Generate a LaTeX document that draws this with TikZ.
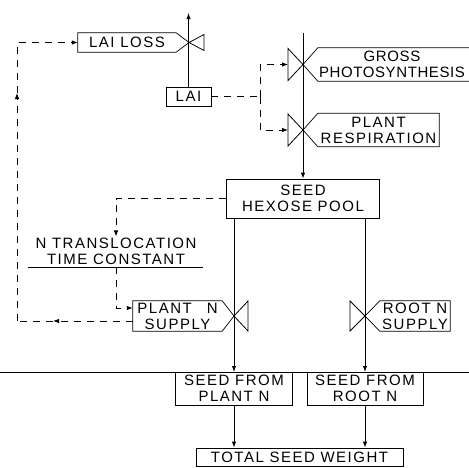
\documentclass[tikz,border=0pt]{standalone}
\usepackage{fontspec}
\setmainfont{Liberation Sans}[LetterSpace=10]
\usetikzlibrary{arrows.meta,calc}

\begin{document}
\begin{tikzpicture}[x=1pt,y=-1pt,
 lbl/.style={inner sep=1pt,align=center,font=\fontsize{15}{16}\selectfont},
 box/.style={lbl,draw,line width=.7pt},
 outline/.style={draw,line width=.7pt},
 valve/.style={draw,line width=.8pt},
 flow/.style={-{Latex[length=6pt,width=4.5pt]},line width=1pt},
 link/.style={line width=.8pt,dash pattern=on 7pt off 6pt},
 linkarrow/.style={link,-{Latex[length=6pt,width=4.5pt]}}
]
\useasboundingbox (0,0) rectangle (469,467);
\node[lbl,minimum width=98pt,minimum height=19pt] (lailoss) at (127,42.5) {LAI LOSS};
\node[box,minimum width=45pt,minimum height=19pt] (lai) at (188.5,96.5) {LAI};
\node[lbl,minimum width=150pt,minimum height=33pt,
 font=\fontsize{15}{16}\selectfont\addfontfeature{LetterSpace=4}] (gross) at (392,64.5) {GROSS\\PHOTOSYNTHESIS};
\node[lbl,minimum width=121pt,minimum height=33pt] (resp) at (378.5,130) {PLANT\\RESPIRATION};
\node[box,minimum width=153pt,minimum height=39pt] (pool) at (303,198.5) {SEED\\HEXOSE POOL};
\node[lbl] (ntc) at (116,251) {N TRANSLOCATION\\TIME CONSTANT};
\node[lbl,minimum width=89pt,minimum height=30pt] (pns) at (177.5,316) {PLANT\quad N\\SUPPLY};
\node[lbl,minimum width=70pt,minimum height=30pt] (rns) at (415,316) {ROOT N\\SUPPLY};
\node[box,minimum width=117pt,minimum height=33pt] (sfp) at (234,388.5) {SEED FROM\\PLANT N};
\node[box,minimum width=116pt,minimum height=33pt] (sfr) at (365,388.5) {SEED FROM\\ROOT N};
\node[box,minimum width=207pt,minimum height=18pt] (tsw) at (299.5,457) {TOTAL SEED WEIGHT};

\coordinate (vloss) at (189,42.5);
\coordinate (vgross) at (303,64.5);
\coordinate (vresp) at (303,130);
\coordinate (vpn) at (234,316);
\coordinate (vrn) at (365,316);
\coordinate (src) at (303,33);
\coordinate (sink) at (189,13);
\coordinate (hl) at (0,372);
\coordinate (hr) at (469,372);
\coordinate (lsplit) at (260,96.5);
\coordinate (ulw) at (28,267);
\coordinate (ule) at (203,267);
\coordinate (fbm1) at (53,321);
\coordinate (fbc) at (17,321);
\coordinate (fbm2) at (17,93);

\draw[outline] (vloss) -- (lailoss.north east) -- (lailoss.north west) -- (lailoss.south west) -- (lailoss.south east) -- cycle;
\draw[outline] (vgross) -- ($(gross.north west)+(1,0)$) -- ([xshift=20pt]gross.north east);
\draw[outline] (vgross) -- ($(gross.south west)+(1,0)$) -- ([xshift=20pt]gross.south east);
\draw[outline] (vresp) -- (resp.north west) -- (resp.north east) -- (resp.south east) -- (resp.south west) -- cycle;
\draw[outline] (vpn) -- (pns.north east) -- (pns.north west) -- (pns.south west) -- (pns.south east) -- cycle;
\draw[outline] (vrn) -- (rns.north west) -- (rns.north east) -- (rns.south east) -- (rns.south west) -- cycle;

\draw[valve] (vloss) -- ++(15,-8) -- ++(0,16) -- cycle;
\draw[valve] (vgross) -- ++(-15,-16) -- ++(0,32) -- cycle;
\draw[valve] (vresp) -- ++(-15,-16) -- ++(0,32) -- cycle;
\draw[valve] (vpn) -- ++(14,-15) -- ++(0,30) -- cycle;
\draw[valve] (vrn) -- ++(-15,-15) -- ++(0,30) -- cycle;

\draw[flow] (src) -- (pool.north);
\draw[flow] (lai.north) -- (lai.north |- sink);
\draw[flow] (pool.south -| vpn) -- (vpn |- hl);
\draw[flow] (pool.south -| vrn) -- (vrn |- hl);
\draw[flow] (sfp.south) -- (sfp.south |- tsw.north);
\draw[flow] (sfr.south) -- (sfr.south |- tsw.north);
\draw[line width=.8pt] (hl) -- (hr);

\draw[link] (lai.east) -- (lsplit);
\draw[linkarrow] (lsplit) |- ($(vgross)+(-15,0)$);
\draw[linkarrow] (lsplit) |- ($(vresp)+(-15,0)$);
\draw[linkarrow] (pool.west) -| (ntc.north);
\draw[line width=.8pt] (ulw) -- (ule);
\draw[linkarrow] (ntc.south |- ulw) |- ($(pns.west)+(0,-8)$);
\draw[linkarrow] ($(pns.west)+(0,5)$) -- (fbm1);
\draw[link] (fbm1) -- (fbc);
\draw[linkarrow] (fbc) -- (fbm2);
\draw[linkarrow] (fbm2) |- (lailoss.west);
\end{tikzpicture}
\end{document}
